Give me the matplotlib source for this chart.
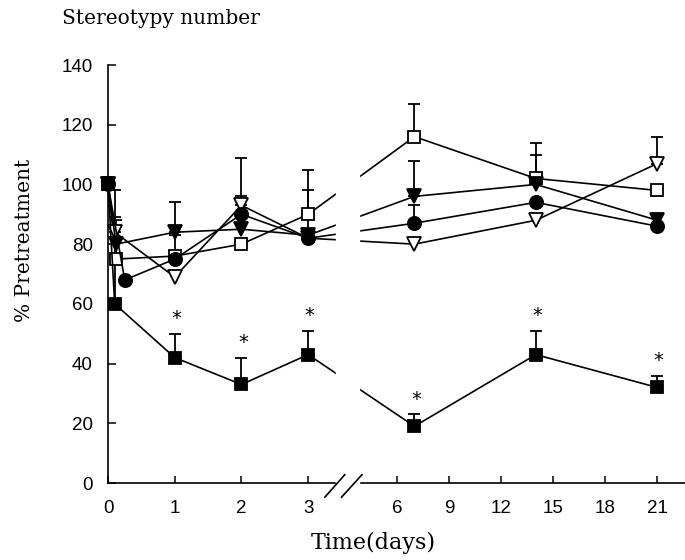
import numpy as np
import matplotlib
matplotlib.use("Agg")
import matplotlib.pyplot as plt

# data (% of pretreatment)
days_sq = [0, 0.1, 1, 2, 3, 7, 14, 21]
days_circ = [0, 0.25, 1, 2, 3, 7, 14, 21]
days_tri = [0, 0.12, 1, 2, 3, 7, 14, 21]
days_osq = [0, 0.12, 1, 2, 3, 7, 14, 21]
days_otri = [0, 0.1, 1, 2, 3, 7, 14, 21]

filled_square = [100, 60, 42, 33, 43, 19, 43, 32]
filled_square_err = [0, 38, 8, 9, 8, 4, 8, 4]
filled_circle = [100, 68, 75, 90, 82, 87, 94, 86]
filled_circle_err = [0, 0, 8, 19, 23, 6, 0, 0]
filled_triangle = [100, 80, 84, 85, 83, 96, 100, 88]
filled_triangle_err = [0, 0, 10, 0, 0, 12, 10, 0]
open_square = [100, 75, 76, 80, 90, 116, 102, 98]
open_square_err = [0, 13, 0, 0, 8, 11, 12, 0]
open_triangle = [100, 84, 69, 93, 82, 80, 88, 107]
open_triangle_err = [0, 5, 0, 3, 0, 0, 0, 9]

signif = [False, False, True, True, True, True, True, True]

xticks_left = [0, 1, 2, 3]
xticks_right = [6, 9, 12, 15, 18, 21]
yticks = [0, 20, 40, 60, 80, 100, 120, 140]

# broken time axis: linear up to the break, compressed after it
JOIN = 3.747
OFFSET = 4.333
SLOPE = 0.26


def fwd(x):
    x = np.asarray(x, dtype=float)
    return np.where(x <= JOIN, x, OFFSET + (x - 6) * SLOPE)


def inv(u):
    u = np.asarray(u, dtype=float)
    return np.where(u <= JOIN, u, 6 + (u - OFFSET) / SLOPE)


fig = plt.figure(figsize=(6.85, 5.6), dpi=100)
ax = fig.add_axes([0.1577, 0.1375, 0.8423, 0.7464])
ax.set_xscale('function', functions=(fwd, inv))
ax.set_xlim(0, 22.6)
ax.set_ylim(0, 140)

series = [
    (days_osq, open_square, open_square_err, 's', 'white', 8),
    (days_otri, open_triangle, open_triangle_err, 'v', 'white', 9.5),
    (days_tri, filled_triangle, filled_triangle_err, 'v', 'black', 9.5),
    (days_circ, filled_circle, filled_circle_err, 'o', 'black', 9.5),
    (days_sq, filled_square, filled_square_err, 's', 'black', 8),
]

for t, v, e, mk, fc, ms in series:
    t = np.array(t)
    v = np.array(v)
    e = np.array(e)
    m = e > 0
    ax.errorbar(t[m], v[m], yerr=[np.zeros(m.sum()), e[m]], fmt='none',
                ecolor='black', elinewidth=1.3, capsize=4, capthick=1.3,
                zorder=2, clip_on=False)
    ax.plot(t, v, color='black', lw=1.2, marker=mk, ms=ms, mfc=fc,
            mec='black', mew=1.3, zorder=3, clip_on=False)

# significance stars on the treated group
for t, v, e, s in zip(days_sq, filled_square, filled_square_err, signif):
    if s:
        ax.annotate('*', (t, v + e), xytext=(1, 4), textcoords='offset points',
                    ha='center', va='bottom', fontsize=14)

# gap in the lines and axis at the break
ax.axvspan(3.42, 3.8, ymin=-0.02, ymax=1, color='white', zorder=6,
           clip_on=False)
tr = ax.get_xaxis_transform()
for a, b in [(3.25, 3.55), (3.5, 3.98)]:
    ax.plot([a, b], [-0.034, 0.02], color='black', lw=1.2, transform=tr,
            clip_on=False, zorder=7)

for s in ['top', 'right']:
    ax.spines[s].set_visible(False)
for s in ['left', 'bottom']:
    ax.spines[s].set_linewidth(1.2)

ax.set_xticks(xticks_left + xticks_right)
ax.set_xticklabels([str(x) for x in xticks_left + xticks_right])
ax.set_yticks(yticks)
ax.tick_params(axis='both', direction='in', width=1.1, labelsize=13.5,
               labelfontfamily='Liberation Sans')
ax.tick_params(axis='x', length=5, pad=12)
ax.tick_params(axis='y', length=6, pad=11)
ax.minorticks_off()

serif = 'DejaVu Serif'
fig.text(62 / 685, 1 - 19 / 560, 'Stereotypy number', family=serif,
         fontsize=14.5, ha='left', va='center')
fig.text(24 / 685, 1 - 240 / 560, '% Pretreatment', family=serif,
         fontsize=14.5, rotation=90, ha='center', va='center')
fig.text(373 / 685, 1 - 543 / 560, 'Time(days)', family=serif,
         fontsize=16, ha='center', va='center')

fig.savefig('out.png', dpi=100)
